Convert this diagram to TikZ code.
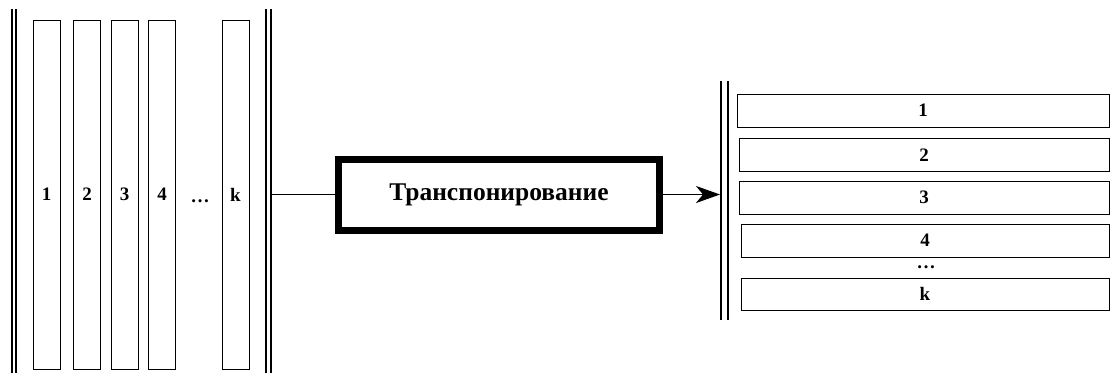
\documentclass[tikz,border=0pt]{standalone}
\usepackage{fontspec}
\setmainfont{Liberation Serif}
\usetikzlibrary{arrows.meta}
\begin{document}
\begin{tikzpicture}[x=1pt,y=-1pt,
  lbl/.style={font=\bfseries\fontsize{19}{22}\selectfont},
  col/.style={lbl,draw,line width=1pt,inner sep=0pt,minimum width=27pt,minimum height=349pt},
  row/.style={lbl,draw,line width=1pt,inner sep=0pt,minimum height=33pt},
  bar/.style={line width=2.2pt},
  proc/.style={draw,line width=7pt,inner sep=0pt,minimum width=321pt,minimum height=71pt,
    font=\bfseries\fontsize{25.5}{30}\selectfont},
  link/.style={line width=1.2pt}
]
\useasboundingbox (0,0) rectangle (1117,373);

% input columns between two double bars
\draw[bar] (11.8,9) -- (11.8,373);
\draw[bar] (15.9,9) -- (15.9,373);
\node[col] (c1) at (46.7,194.5) {1};
\node[col] (c2) at (87,194.5) {2};
\node[col] (c3) at (124.5,194.5) {3};
\node[col] (c4) at (162,194.5) {4};
\node[lbl,anchor=base] (cd) at (200,202) {…};
\node[col] (ck) at (235.5,194.5) {k};
\draw[bar] (266.3,9) -- (266.3,373);
\draw[bar] (270.9,9) -- (270.9,373);
\coordinate (lin) at (272,194.5);

% processing block
\node[proc] (tr) at (499,194.5) {Транспонирование};

% output rows after a double bar
\draw[bar] (721.3,81) -- (721.3,320);
\draw[bar] (727.6,81) -- (727.6,320);
\coordinate (rin) at (720,194.5);
\node[row,minimum width=372pt] (r1) at (923,110.5) {1};
\node[row,minimum width=370pt] (r2) at (924,155) {2};
\node[row,minimum width=370pt] (r3) at (924,197.5) {3};
\node[row,minimum width=368pt] (r4) at (925,240.5) {4};
\node[lbl,anchor=base] (rd) at (926,268) {…};
\node[row,minimum width=368pt,minimum height=32pt] (rk) at (925,294) {k};

% connectors
\draw[link] (lin) -- (tr.west);
\draw[link,-{Stealth[length=24pt,width=17pt,inset=7pt]}] (tr.east) -- (rin);
\end{tikzpicture}
\end{document}
